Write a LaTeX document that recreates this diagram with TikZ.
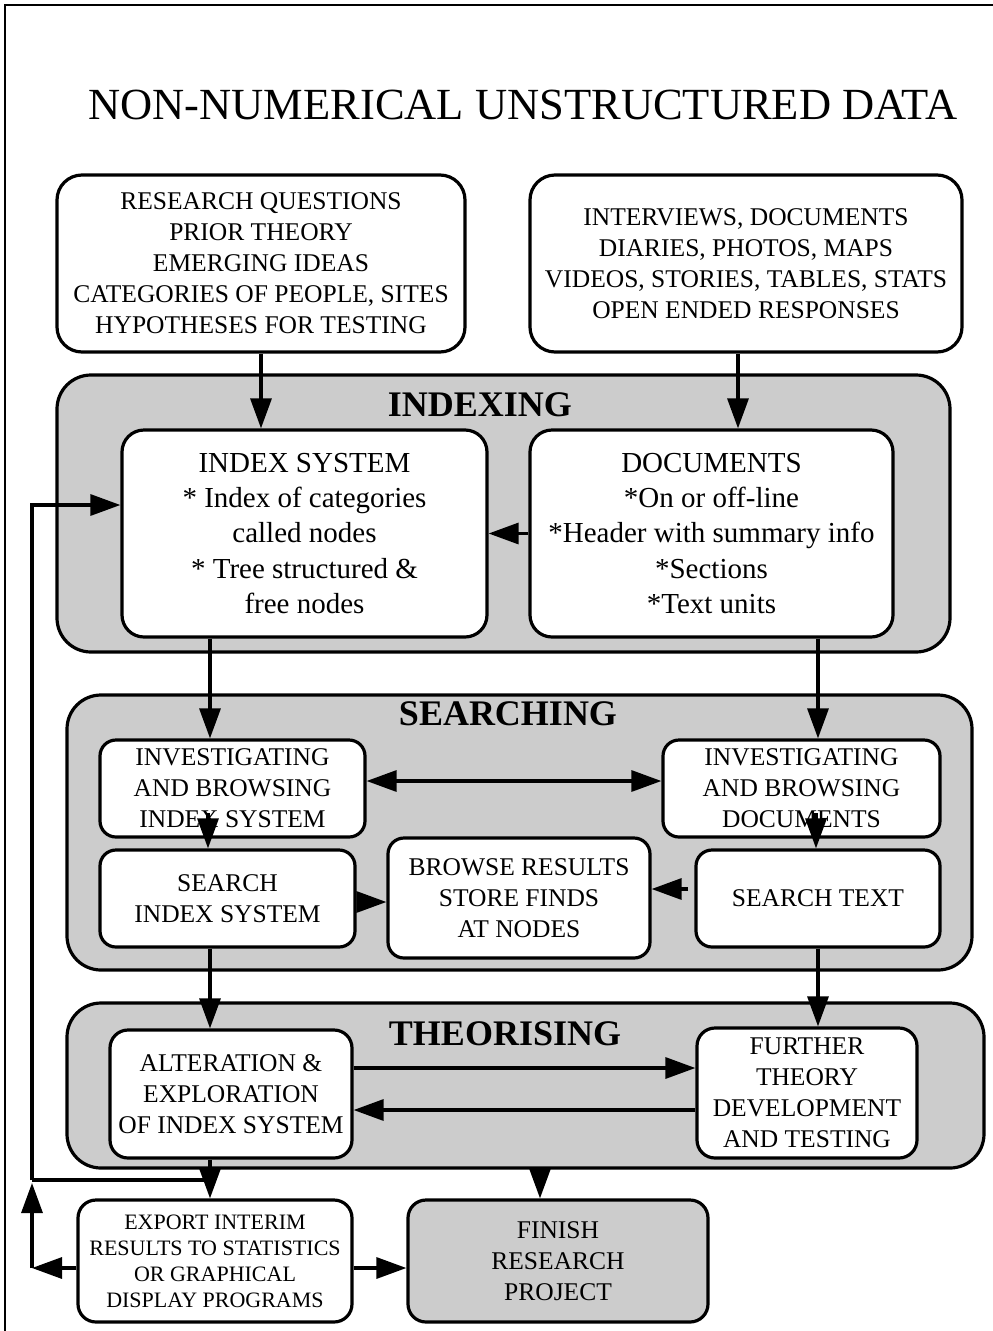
\documentclass[tikz,border=0pt]{standalone}
\usepackage{fontspec}
\setmainfont{Liberation Serif}
\usetikzlibrary{arrows.meta,calc}
\definecolor{panelgray}{RGB}{204,204,204}
\newcommand{\fsA}{\fontsize{25.5}{31}\selectfont}
\newcommand{\fsB}{\fontsize{29}{35.3}\selectfont}
\newcommand{\fsC}{\fontsize{22}{26}\selectfont}
\begin{document}
\begin{tikzpicture}[x=1pt,y=-1pt,
  line width=3.2pt,
  wbox/.style={draw, fill=white, rounded corners=22pt, align=center, inner sep=0pt, font=\fsA},
  gbox/.style={wbox, fill=panelgray},
  panel/.style={draw, fill=panelgray, rounded corners=34pt, inner sep=0pt},
  ptitle/.style={font=\fontsize{36}{40}\selectfont\bfseries, inner sep=0pt},
  arr/.style={-{Triangle[length=30pt,width=21pt]}},
  darr/.style={{Triangle[length=30pt,width=21pt]}-{Triangle[length=30pt,width=21pt]}},
]
\useasboundingbox (0,0) rectangle (993,1331);

% outer frame (left and top edges)
\draw[line width=2.5pt] (5,1331) -- (5,5) -- (993,5);

% title
\node[inner sep=0pt] (title) at (523,105) {\fontsize{44.5}{50}\selectfont NON-NUMERICAL UNSTRUCTURED DATA};

% input boxes
\node[wbox, rounded corners=25pt, minimum width=408, minimum height=177] (rq) at (261,263.5)
  {RESEARCH QUESTIONS\\PRIOR THEORY\\EMERGING IDEAS\\CATEGORIES OF PEOPLE, SITES\\HYPOTHESES FOR TESTING};
\node[wbox, rounded corners=25pt, minimum width=432, minimum height=177] (data) at (746,263.5)
  {INTERVIEWS, DOCUMENTS\\DIARIES, PHOTOS, MAPS\\VIDEOS, STORIES, TABLES, STATS\\OPEN ENDED RESPONSES};

% stage panels
\node[panel, minimum width=893, minimum height=277] (pidx) at (503.5,513.5) {};
\node[ptitle] (tidx) at (480,405) {INDEXING};
\node[panel, minimum width=905, minimum height=275] (psrch) at (519.5,832.5) {};
\node[ptitle] (tsrch) at (508,714) {SEARCHING};
\node[panel, minimum width=917, minimum height=165] (pthe) at (525.5,1085.5) {};
\node[ptitle] (tthe) at (505,1034) {THEORISING};

% indexing
\node[wbox, font=\fsB, minimum width=365, minimum height=207] (idx) at (304.5,533.5)
  {INDEX SYSTEM\\* Index of categories\\called nodes\\* Tree structured \&\\free nodes};
\node[wbox, font=\fsB, minimum width=363, minimum height=207] (docs) at (711.5,533.5)
  {DOCUMENTS\\*On or off-line\\*Header with summary info\\*Sections\\*Text units};

% searching
\node[wbox, rounded corners=16pt, minimum width=265, minimum height=97] (ibi) at (232.5,788.5)
  {INVESTIGATING\\AND BROWSING\\INDEX SYSTEM};
\node[wbox, rounded corners=16pt, minimum width=277, minimum height=97] (ibd) at (801.5,788.5)
  {INVESTIGATING\\AND BROWSING\\DOCUMENTS};
\node[wbox, rounded corners=16pt, minimum width=255, minimum height=97] (sidx) at (227.5,898.5)
  {SEARCH\\INDEX SYSTEM};
\node[wbox, rounded corners=16pt, minimum width=262, minimum height=120] (brw) at (519,898)
  {BROWSE RESULTS\\STORE FINDS\\AT NODES};
\node[wbox, rounded corners=16pt, minimum width=244, minimum height=97] (stxt) at (818,898.5)
  {SEARCH TEXT};

% theorising
\node[wbox, rounded corners=18pt, minimum width=242, minimum height=128] (alt) at (231,1094)
  {ALTERATION \&\\EXPLORATION\\OF INDEX SYSTEM};
\node[wbox, rounded corners=18pt, minimum width=220, minimum height=130] (fur) at (807,1093)
  {FURTHER\\THEORY\\DEVELOPMENT\\AND TESTING};

% outputs
\node[wbox, font=\fsC, rounded corners=18pt, minimum width=274, minimum height=122] (exp) at (215,1261)
  {EXPORT INTERIM\\RESULTS TO STATISTICS\\OR GRAPHICAL\\DISPLAY PROGRAMS};
\node[gbox, rounded corners=18pt, minimum width=300, minimum height=122] (fin) at (558,1261)
  {FINISH\\RESEARCH\\PROJECT};

% guide coordinates for the connector columns
\coordinate (xL) at (210,0);
\coordinate (xR) at (818,0);
\coordinate (xM) at (540,0);
\coordinate (s7) at (208,813);
\coordinate (s8) at (816,813);
\coordinate (s10) at (688,889);
\coordinate (fb) at (32,1268);
\coordinate (fj) at (32,1180);
\coordinate (fi) at (32,505);

% connectors
\draw[arr] (rq.south) -- (rq.south |- idx.north);
\draw[arr] ([xshift=-8pt]data.south) -- ([xshift=-8pt]data.south |- docs.north);
\draw[arr] (docs.west) -- (idx.east);
\draw[arr] (idx.south -| xL) -- (ibi.north -| xL);
\draw[arr] (docs.south -| xR) -- (ibd.north -| xR);
\draw[darr] ([yshift=7.5pt]ibi.east) -- ([yshift=7.5pt]ibi.east -| ibd.west);
\draw[arr] (s7) -- (s7 |- sidx.north);
\draw[arr] (s8) -- (s8 |- stxt.north);
\draw[arr] ([yshift=-3.5pt]sidx.east) -- ([yshift=-3.5pt]sidx.east -| brw.west);
\draw[arr] (s10) -- (s10 -| brw.east);
\draw[arr] (sidx.south -| xL) -- (alt.north -| xL);
\draw[arr] (stxt.south -| xR) -- (fur.north -| xR);
\draw[arr] ([yshift=26pt]alt.east) -- ([yshift=26pt]alt.east -| fur.west);
\draw[arr] ([yshift=-16pt]alt.east -| fur.west) -- ([yshift=-16pt]alt.east);
\draw[arr] (alt.south -| xL) -- (exp.north -| xL);
\draw[arr] (pthe.south -| xM) -- (fin.north -| xM);
\draw[arr] (exp.west |- fb) -- (fb);
\draw[arr] (exp.east |- fb) -- (fin.west |- fb);
\draw[arr, shorten >=3pt] (fb) -- (fj);
\draw (fj) -- (fj -| xL);
\draw[arr] (fj) -- (fi) -- (fi -| idx.west);
\end{tikzpicture}
\end{document}
